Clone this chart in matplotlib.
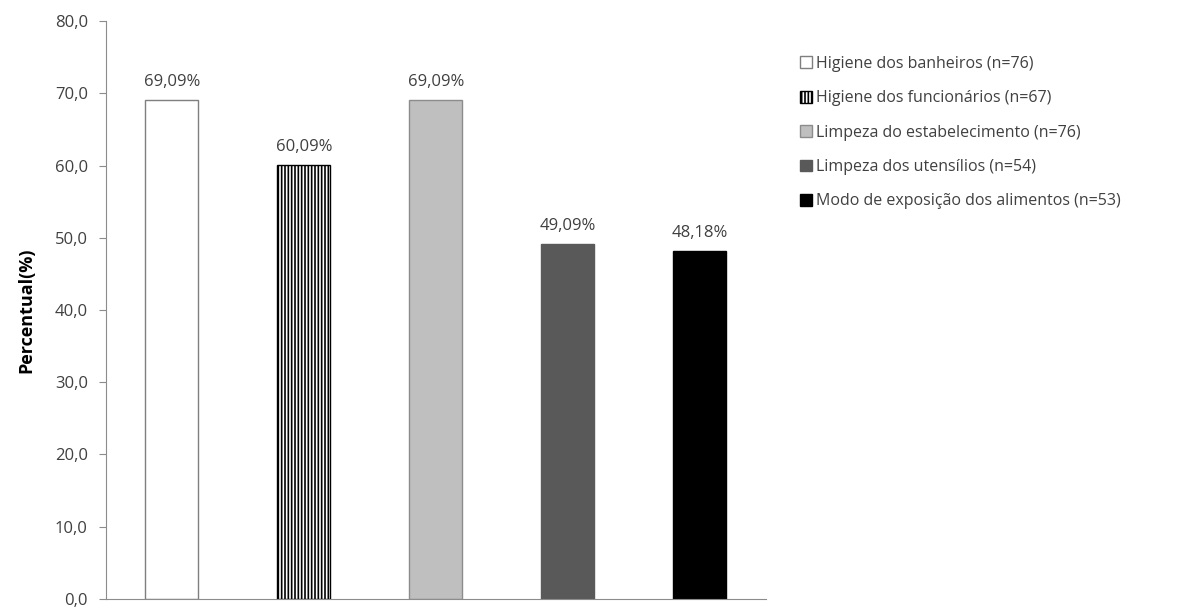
import matplotlib
matplotlib.use("Agg")
import matplotlib.pyplot as plt
import numpy as np

plt.rcParams['font.family'] = ['Open Sans', 'DejaVu Sans']
plt.rcParams['hatch.linewidth'] = 1.2

categories = ["Higiene dos banheiros (n=76)",
              "Higiene dos funcionários (n=67)",
              "Limpeza do estabelecimento (n=76)",
              "Limpeza dos utensílios (n=54)",
              "Modo de exposição dos alimentos (n=53)"]
values = [69.09, 60.09, 69.09, 49.09, 48.18]
bar_labels = ["69,09%", "60,09%", "69,09%", "49,09%", "48,18%"]
yticks = [0, 10, 20, 30, 40, 50, 60, 70, 80]

facecolors = ['white', 'white', '#bfbfbf', '#595959', 'black']
edgecolors = ['#7f7f7f', 'black', '#8c8c8c', '#595959', 'black']
hatches = [None, '|||||', None, None, None]

fig = plt.figure(figsize=(11.89, 6.08), dpi=100)
ax = fig.add_axes([0.089, 0.015, 0.555, 0.95])

x = np.arange(len(values))
for i, v in enumerate(values):
    ax.bar(x[i], v, width=0.4, color=facecolors[i], edgecolor=edgecolors[i],
           hatch=hatches[i], linewidth=1.0, label=categories[i])
    ax.text(x[i], v + 1.4, bar_labels[i], ha='center', va='bottom',
            fontsize=12, color='#404040')

ax.set_xlim(-0.5, len(values) - 0.5)
ax.set_ylim(0, 80)
ax.set_yticks(yticks)
ax.set_yticklabels([("%.1f" % t).replace('.', ',') for t in yticks],
                   fontsize=12, color='#404040')
ax.set_xticks([])
ax.tick_params(axis='y', length=5, color='#8c8c8c', pad=8)
for s in ['top', 'right']:
    ax.spines[s].set_visible(False)
for s in ['left', 'bottom']:
    ax.spines[s].set_color('#8c8c8c')
ax.set_ylabel('Percentual(%)', fontsize=13, fontweight='bold', labelpad=14)

ax.legend(loc='upper left', bbox_to_anchor=(1.03, 0.965), frameon=False,
          fontsize=11.5, handlelength=0.75, handleheight=0.75,
          handletextpad=0.25, labelspacing=1.15, labelcolor='#404040')

fig.savefig('out.png', dpi=100)
